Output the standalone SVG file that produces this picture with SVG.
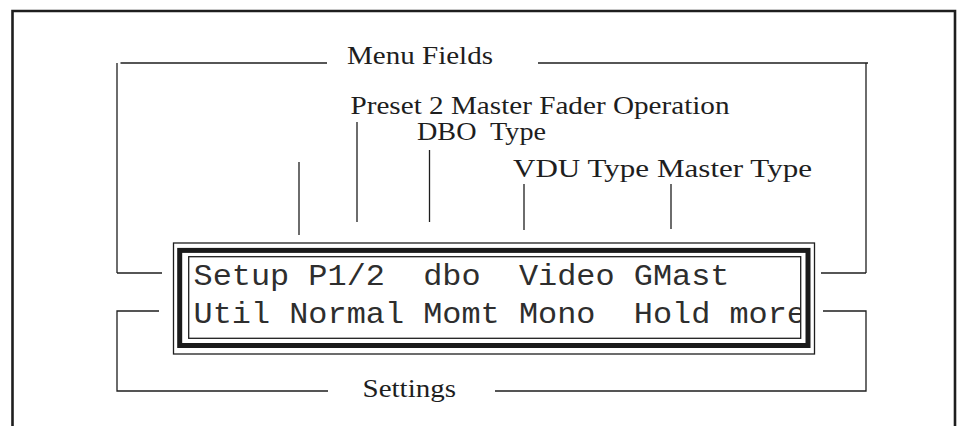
<svg xmlns="http://www.w3.org/2000/svg" width="961" height="426" viewBox="0 0 961 426">
  <style>
    .ln { fill: none; stroke: #1e1e1e; stroke-width: 1.3; }
    .lbl { font-family: "Liberation Serif", "Times New Roman", serif; font-size: 26px; fill: #1e1e1e; }
    .lcd { font-family: "Liberation Mono", "Courier New", monospace; font-size: 29px; fill: #2e2e2e; }
  </style>
  <defs>
    <clipPath id="lcdclip">
      <rect x="189.4" y="257.4" width="610.6" height="80.2"/>
    </clipPath>
  </defs>
  <rect width="961" height="426" fill="#ffffff"/>

  <g id="frame">
    <polyline points="12.5,426 12.5,11 955,11 955,426" fill="none" stroke="#1e1e1e" stroke-width="2.6"/>
  </g>

  <g id="connectors">
    <!-- Menu Fields bracket -->
    <line class="ln" x1="117" y1="63" x2="117" y2="273"/>
    <line class="ln" x1="120.5" y1="63" x2="327" y2="63"/>
    <line class="ln" x1="117" y1="273" x2="162" y2="273"/>
    <line class="ln" x1="538" y1="63" x2="868" y2="63"/>
    <line class="ln" x1="866" y1="63" x2="866" y2="273"/>
    <line class="ln" x1="821" y1="273" x2="866" y2="273"/>
    <!-- Settings bracket -->
    <polyline class="ln" points="159,311 117,311 117,391 328,391"/>
    <polyline class="ln" points="823,311 866,311 866,391 495,391"/>
    <!-- leader lines -->
    <line class="ln" x1="299" y1="162" x2="299" y2="235"/>
    <line class="ln" x1="357" y1="122" x2="357" y2="222"/>
    <line class="ln" x1="429.5" y1="150" x2="429.5" y2="222"/>
    <line class="ln" x1="524" y1="184" x2="524" y2="230"/>
    <line class="ln" x1="671" y1="184" x2="671" y2="229"/>
  </g>

  <g id="menu-fields">
    <text class="lbl" x="347" y="64" textLength="146" lengthAdjust="spacingAndGlyphs">Menu Fields</text>
  </g>
  <g id="label-preset2">
    <text class="lbl" x="350.5" y="114" textLength="379" lengthAdjust="spacingAndGlyphs">Preset 2 Master Fader Operation</text>
  </g>
  <g id="label-dbo">
    <text class="lbl" x="417" y="140" xml:space="preserve" textLength="129" lengthAdjust="spacingAndGlyphs">DBO  Type</text>
  </g>
  <g id="label-vdu-master">
    <text class="lbl" x="513" y="177" textLength="299" lengthAdjust="spacingAndGlyphs">VDU Type Master Type</text>
  </g>
  <g id="settings">
    <text class="lbl" x="362.5" y="397" textLength="93.5" lengthAdjust="spacingAndGlyphs">Settings</text>
  </g>

  <g id="lcd-display">
    <rect x="173.5" y="243" width="641" height="111" fill="none" stroke="#1e1e1e" stroke-width="1.3"/>
    <rect x="179.7" y="250.4" width="628.3" height="95.1" fill="none" stroke="#1a1a1a" stroke-width="5"/>
    <rect x="188.7" y="256.7" width="612" height="81.6" fill="none" stroke="#1e1e1e" stroke-width="1.3"/>
    <g clip-path="url(#lcdclip)">
      <text class="lcd" x="193.5" y="285" xml:space="preserve" textLength="536" lengthAdjust="spacingAndGlyphs">Setup P1/2  dbo  Video GMast</text>
      <text class="lcd" x="193.5" y="323" xml:space="preserve" textLength="612.5" lengthAdjust="spacingAndGlyphs">Util Normal Momt Mono  Hold more</text>
    </g>
  </g>
</svg>
